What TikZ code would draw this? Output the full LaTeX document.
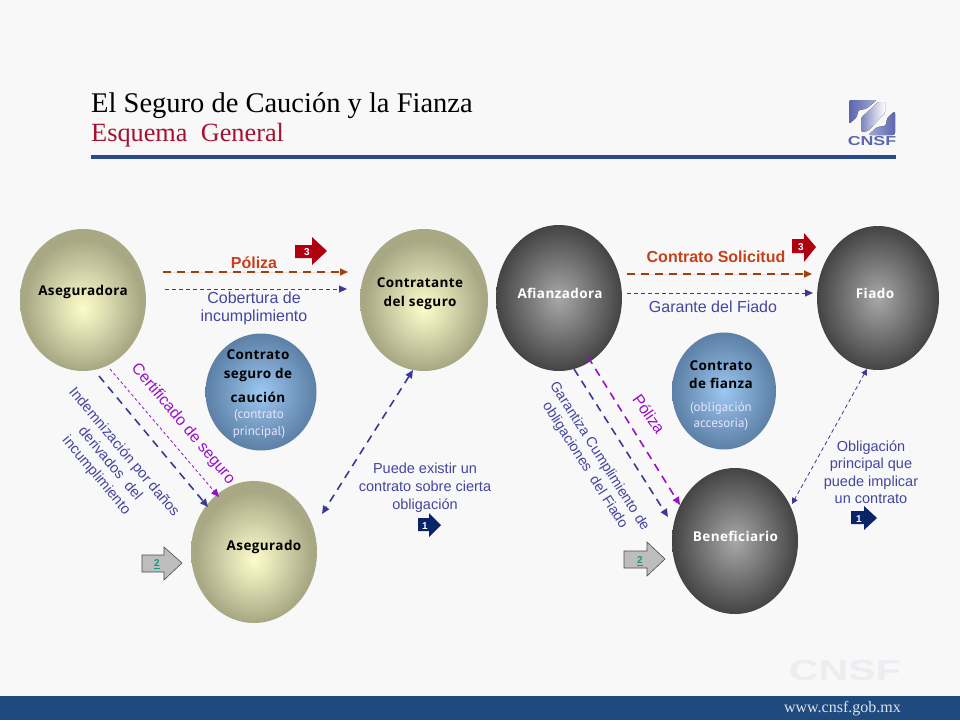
\documentclass[tikz,border=0pt]{standalone}
\usepackage{fontspec}
\setmainfont{Liberation Sans}
\newfontfamily\serifface{Liberation Serif}
\newfontfamily\ballface[LetterSpace=3]{Open Sans}
\newfontfamily\subface{PT Sans}
\usetikzlibrary{shapes.geometric,arrows.meta}
\definecolor{bgc}{HTML}{F8F8F9}
\definecolor{barc}{HTML}{1F4A7F}
\definecolor{rulec}{HTML}{2A4A8E}
\definecolor{titlered}{HTML}{A5122F}
\definecolor{tanin}{HTML}{FDFDC9}
\definecolor{tanmid}{HTML}{D6D6AC}
\definecolor{tanout}{HTML}{A8A884}
\definecolor{grayin}{HTML}{A8A8A8}
\definecolor{graymid}{HTML}{787878}
\definecolor{grayout}{HTML}{444444}
\definecolor{bluein}{HTML}{9CC8F2}
\definecolor{bluemid}{HTML}{7DA4CC}
\definecolor{blueout}{HTML}{5C80A6}
\definecolor{brownc}{HTML}{A0400F}
\definecolor{navyc}{HTML}{3A3A96}
\definecolor{labelblue}{HTML}{45459F}
\definecolor{purplec}{HTML}{9A10C8}
\definecolor{orangec}{HTML}{C8401A}
\definecolor{redbox}{HTML}{B00010}
\definecolor{navybox}{HTML}{0A2468}
\definecolor{grayarrow}{HTML}{BDBDBD}
\definecolor{tealc}{HTML}{109A8C}
\definecolor{logoc}{HTML}{5C66AE}
\definecolor{markc}{HTML}{ECEDF1}
\pgfdeclareradialshading{tanball}{\pgfpoint{0bp}{-3bp}}{color(0bp)=(tanin); color(11bp)=(tanmid); color(23bp)=(tanout); color(50bp)=(tanout)}
\pgfdeclareradialshading{grayball}{\pgfpoint{0bp}{0bp}}{color(0bp)=(grayin); color(12bp)=(graymid); color(25bp)=(grayout); color(50bp)=(grayout)}
\pgfdeclareradialshading{blueball}{\pgfpoint{0bp}{0bp}}{color(0bp)=(bluein); color(12bp)=(bluemid); color(25bp)=(blueout); color(50bp)=(blueout)}
\tikzset{
  x=1pt,y=-1pt,
  ball/.style={ellipse,inner sep=0pt,outer sep=0pt},
  tanb/.style={ball,shading=tanball},
  grayb/.style={ball,shading=grayball},
  blueb/.style={ball,shading=blueball},
  balltxt/.style={font=\ballface\bfseries\fontsize{13.5}{19}\selectfont,align=center,inner sep=0pt,text=black},
  whitetxt/.style={balltxt,text=white},
  subtxt/.style={font=\subface\fontsize{13}{16.5}\selectfont,align=center,inner sep=0pt,text=white!90!blue},
  lab/.style={font=\fontsize{16}{18}\selectfont,align=center,inner sep=0pt,text=labelblue},
  labrot/.style={font=\fontsize{14.6}{18}\selectfont,align=center,inner sep=0pt,text=labelblue},
  labsmall/.style={font=\fontsize{14.5}{17.5}\selectfont,align=center,inner sep=0pt,text=labelblue},
  labbold/.style={font=\bfseries\fontsize{16}{18}\selectfont,inner sep=0pt,text=orangec},
  tip/.style={-{Triangle[length=8pt,width=7pt]}},
  tiptwo/.style={{Triangle[length=8pt,width=7pt]}-{Triangle[length=8pt,width=7pt]}},
  brownline/.style={tip,draw=brownc,fill=brownc,line width=1.5pt,dash pattern=on 8pt off 6pt},
  bluethin/.style={tip,draw=navyc,line width=.8pt,dash pattern=on 4pt off 3pt},
  bluethick/.style={tip,draw=navyc,line width=1.6pt,dash pattern=on 8pt off 6pt},
  purplethick/.style={tip,draw=purplec,line width=1.6pt,dash pattern=on 8pt off 6pt},
  purplethin/.style={tip,draw=purplec,line width=.8pt,dash pattern=on 3pt off 2.5pt},
  numtxt/.style={font=\bfseries\fontsize{10}{12}\selectfont,inner sep=0pt,text=white},
  linktxt/.style={font=\bfseries\fontsize{10}{12}\selectfont,inner sep=0pt,text=tealc},
}
\begin{document}
\begin{tikzpicture}
\useasboundingbox (0,0) rectangle (960,720);
\fill[bgc] (0,0) rectangle (960,720);
% footer
\fill[barc] (0,696) rectangle (960,720);
\node[inner sep=0pt,anchor=east,text=white!85!barc,font=\serifface\fontsize{16}{18}\selectfont] (web) at (901,708.5) {www.cnsf.gob.mx};
\node[inner sep=0pt,text=markc,font=\bfseries\fontsize{29}{30}\selectfont] (mark) at (845,670.5) {\scalebox{1.42}[1]{CNSF}};
% header
\node[inner sep=0pt,anchor=west,text=black,font=\serifface\fontsize{28.5}{30}\selectfont] (title) at (91,106) {El Seguro de Caución y la Fianza};
\node[inner sep=0pt,anchor=west,text=titlered,font=\serifface\fontsize{26.3}{28}\selectfont] (subtitle) at (91,135) {Esquema\ \ General};
\fill[rulec] (91,155) rectangle (896,159);
% logo
\fill[left color=logoc,right color=logoc!55!white,rounded corners=2.5pt] (849,124) -- (849,100) -- (877,100) -- (866,109) -- (858,110) -- (857,117) -- cycle;
\fill[left color=logoc!80!white,right color=white,rounded corners=1.5pt] (861,132) -- (861,118) -- (878,102) -- (885,102) -- (885,113) -- (868,131) -- cycle;
\fill[left color=logoc!55!white,right color=logoc,rounded corners=2.5pt] (895,111) -- (895,135) -- (868,135) -- (877,127) -- (886,126) -- (887,118) -- cycle;
\node[inner sep=0pt,text=logoc,font=\bfseries\fontsize{13}{14}\selectfont] (logotxt) at (872,141.5) {\scalebox{1.37}[1]{CNSF}};
% balls
\node[tanb,minimum width=126pt,minimum height=142pt] (aseguradora) at (83,300) {};
\node[tanb,minimum width=128pt,minimum height=142pt] (contratante) at (424,300) {};
\node[grayb,minimum width=126pt,minimum height=146pt] (afianzadora) at (559,298) {};
\node[grayb,minimum width=122pt,minimum height=144pt] (fiado) at (878,298) {};
\node[tanb,minimum width=126pt,minimum height=142pt] (asegurado) at (254,552) {};
\node[grayb,minimum width=126pt,minimum height=146pt] (beneficiario) at (735,541) {};
\node[blueb,minimum width=111pt,minimum height=117pt] (contratoA) at (261,392) {};
\node[blueb,minimum width=104pt,minimum height=117pt] (contratoB) at (724,391) {};
% ball labels
\node[balltxt] (t1) at (83,291.5) {Aseguradora};
\node[balltxt] (t2) at (420,294) {Contratante\\del seguro};
\node[whitetxt] (t3) at (560,293) {Afianzadora};
\node[whitetxt] (t4) at (875,293) {Fiado};
\node[balltxt] (t5) at (264,546.5) {Asegurado};
\node[whitetxt] (t6) at (735.5,536) {Beneficiario};
\node[balltxt] (t7) at (258,366) {Contrato\\seguro de};
\node[balltxt] (t8) at (258,397) {caución};
\node[subtxt] (t9) at (259,424) {(contrato\\principal)};
\node[balltxt,font=\ballface\bfseries\fontsize{13.5}{18}\selectfont] (t10) at (721,374.5) {Contrato\\de fianza};
\node[subtxt] (t11) at (721,416) {(obligación\\accesoria)};
% connector ends
\coordinate (a1) at (163,272); \coordinate (a2) at (348,272);
\coordinate (b1) at (165,289); \coordinate (b2) at (347,289);
\coordinate (c1) at (627,274); \coordinate (c2) at (812,274);
\coordinate (d1) at (627,293); \coordinate (d2) at (813,293);
\coordinate (e1) at (110,369); \coordinate (e2) at (219,497);
\coordinate (f1) at (99,376);  \coordinate (f2) at (208,507);
\coordinate (g1) at (413,370); \coordinate (g2) at (322,514);
\coordinate (h1) at (574,369); \coordinate (h2) at (668,517);
\coordinate (i1) at (588,357); \coordinate (i2) at (680,505);
\coordinate (j1) at (867,369); \coordinate (j2) at (792,504);
\draw[brownline] (a1) -- (a2);
\draw[bluethin] (b1) -- (b2);
\draw[brownline] (c1) -- (c2);
\draw[bluethin] (d1) -- (d2);
\draw[purplethin] (e1) -- (e2);
\draw[bluethick] (f1) -- (f2);
\draw[bluethick,tiptwo] (g1) -- (g2);
\draw[bluethick] (h1) -- (h2);
\draw[purplethick] (i1) -- (i2);
\draw[bluethin,{Triangle[length=6pt,width=6pt]}-{Triangle[length=6pt,width=6pt]}] (j1) -- (j2);
% connector labels
\node[labbold] (l1) at (254,263) {Póliza};
\node[lab] (l2) at (254,308) {Cobertura de\\incumplimiento};
\node[labbold] (l3) at (716,256.5) {Contrato Solicitud};
\node[lab] (l4) at (713,306.5) {Garante del Fiado};
\node[lab,text=purplec,rotate=-50] (l5) at (183,424) {Certificado de seguro};
\node[labrot,rotate=-50] (l6) at (110,464) {Indemnización por daños\\derivados\ \ del\\incumplimiento};
\node[labrot,font=\fontsize{14.3}{17}\selectfont,rotate=-57.5] (l7) at (592,461) {Garantiza Cumplimiento de\\obligaciones\ \ del Fiado};
\node[lab,text=purplec,rotate=-55] (l8) at (649,414) {Póliza};
\node[labsmall,font=\fontsize{14.5}{18}\selectfont] (l9) at (425,488) {Puede existir un\\contrato sobre cierta\\obligación};
\node[labsmall] (l10) at (871,472) {Obligación\\principal que\\puede implicar\\un contrato};
% block arrows
\fill[redbox] (295,245) -- (312,245) -- (312,237) -- (327,251) -- (312,265) -- (312,258) -- (295,258) -- cycle;
\node[numtxt] (n1) at (307,252) {3};
\fill[redbox] (792,239) -- (804,239) -- (804,233) -- (816,247) -- (804,262) -- (804,253) -- (792,253) -- cycle;
\node[numtxt] (n2) at (801,247) {3};
\fill[navybox] (418,518) -- (429,518) -- (429,513) -- (441,525) -- (429,537) -- (429,531) -- (418,531) -- cycle;
\node[numtxt] (n3) at (425,526) {1};
\fill[navybox] (851,511) -- (864,511) -- (864,506) -- (877,518) -- (864,530) -- (864,524) -- (851,524) -- cycle;
\node[numtxt] (n4) at (859,519) {1};
\draw[fill=grayarrow,draw=black!70,line width=.6pt] (142,555) -- (164,555) -- (164,547) -- (182,563) -- (164,580) -- (164,572) -- (142,572) -- cycle;
\node[linktxt] (n5) at (157,564) {\underline{2}};
\draw[fill=grayarrow,draw=black!70,line width=.6pt] (624,551) -- (647,551) -- (647,542) -- (665,559) -- (647,576) -- (647,568) -- (624,568) -- cycle;
\node[linktxt] (n6) at (640,561) {\underline{2}};
\end{tikzpicture}
\end{document}
